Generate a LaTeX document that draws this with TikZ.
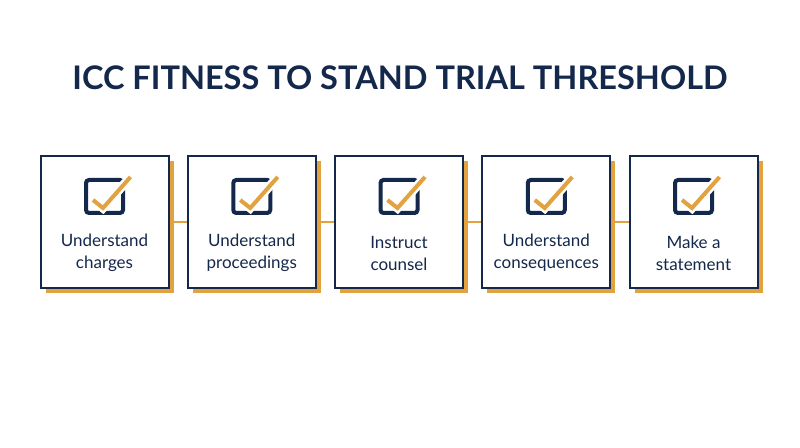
\documentclass[tikz,border=0pt]{standalone}
\usepackage{fontspec}
\setmainfont{Lato}
\usetikzlibrary{shadows}
\definecolor{navy}{HTML}{14284B}
\definecolor{gold}{HTML}{E2A240}
\begin{document}
\begin{tikzpicture}[x=1pt,y=1pt,
  stepbox/.style={draw=navy,line width=2pt,fill=white,minimum width=128pt,minimum height=132pt,inner sep=0pt,
    drop shadow={shadow xshift=5pt,shadow yshift=-5pt,fill=gold,opacity=1}},
  steplabel/.style={font=\fontsize{17}{22}\selectfont,text=navy,align=center}]
\useasboundingbox[fill=white] (0,0) rectangle (800,447);
\node[font=\fontsize{32.5}{38}\selectfont\bfseries,text=navy,anchor=base] (title) at (400,357) {ICC FITNESS TO STAND TRIAL THRESHOLD};
\foreach \i/\t in {1/{Understand\\charges},2/{Understand\\proceedings},3/{Instruct\\counsel},4/{Understand\\consequences},5/{Make a\\statement}} {
  \node[stepbox] (b\i) at (104.5+\i*147.25-147.25,225) {};
  \begin{scope}[shift={(b\i.center)}]
    \node[steplabel] (t\i) at (0,-31) {\t};
    \draw[navy,line width=4pt,rounded corners=3pt] (-18.5,9) rectangle (18.5,42);
    \draw[white,line width=9pt] (-11.5,22) -- (-1.5,14) -- (26,45);
    \draw[gold,line width=4pt] (-11.5,22) -- (-1.5,14) -- (26,45);
  \end{scope}
}
% orange links between the steps
\foreach \i [evaluate=\i as \j using int(\i+1)] in {1,...,4}
  \draw[gold,line width=2pt] (b\i.east) -- (b\j.west);
\end{tikzpicture}
\end{document}
